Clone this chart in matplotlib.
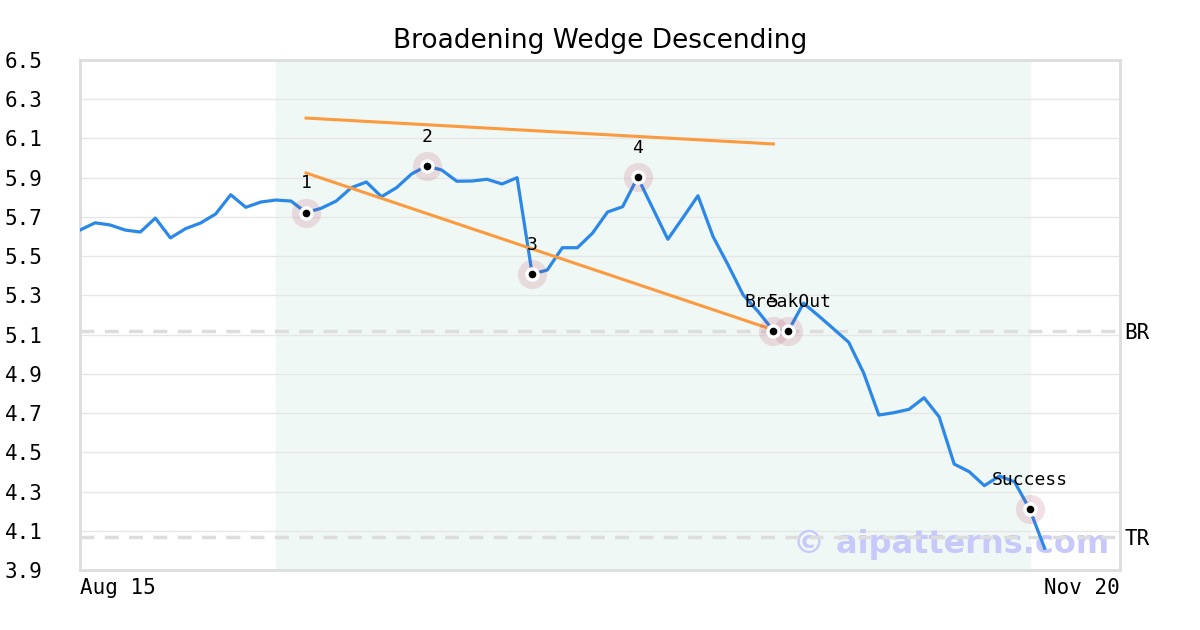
#!/usr/bin/env python3
"""
Broadening wedge (descending) pattern chart with pivot points,
breakout / target levels and the trend lines.
"""

import numpy as np
import matplotlib
matplotlib.use('Agg')
import matplotlib.pyplot as plt

# closing prices, one per trading day (Aug 15 ... )
closes = [5.633, 5.670, 5.659, 5.633, 5.623, 5.694, 5.593, 5.640, 5.669, 5.715,
          5.813, 5.749, 5.776, 5.786, 5.781, 5.722, 5.744, 5.781, 5.849, 5.878,
          5.803, 5.849, 5.919, 5.960, 5.939, 5.882, 5.883, 5.892, 5.868, 5.900,
          5.409, 5.429, 5.543, 5.543, 5.617, 5.725, 5.752, 5.902, 5.744, 5.586,
          5.696, 5.808, 5.600, 5.455, 5.302, 5.217, 5.120, 5.120, 5.260, 5.196,
          5.129, 5.061, 4.903, 4.690, 4.702, 4.719, 4.778, 4.681, 4.440, 4.401,
          4.330, 4.379, 4.350, 4.211, 4.011]

# pattern pivots (index into closes) and their labels
pivot_idx = [15, 23, 30, 37, 46, 47, 63]
pivot_labels = ['1', '2', '3', '4', '5', 'BreakOut', 'Success']

# trend lines: (start index, start value, end index, end value)
upper_line = [15, 6.204, 46, 6.072]
lower_line = [15, 5.924, 46, 5.124]

# pattern window and levels
pattern_span = [13, 63]
breakout_level = 5.118
target_level = 4.068

x_end = 69
x_tick_labels = ['Aug 15', 'Nov 20']
y_ticks = [3.9, 4.1, 4.3, 4.5, 4.7, 4.9, 5.1, 5.3, 5.5, 5.7, 5.9, 6.1, 6.3, 6.5]

MONO = 'DejaVu Sans Mono'


def create_chart():
    fig = plt.figure(figsize=(12, 6.3), dpi=100)
    ax = fig.add_axes([80 / 1200, 60 / 630, 1040 / 1200, 510 / 630])

    x = np.arange(len(closes))

    # pattern window
    ax.axvspan(pattern_span[0], pattern_span[1], color='#eff8f4', zorder=0)

    # grid
    ax.set_yticks(y_ticks)
    ax.yaxis.grid(True, color='#e6e6e6', linewidth=1)
    ax.set_axisbelow(True)

    # watermark
    ax.text(0.99, 0.05, '\u00a9 aipatterns.com', transform=ax.transAxes,
            ha='right', va='center', fontsize=23, fontweight='bold',
            color='#c8c9fa', zorder=1)

    # breakout / target levels
    for lvl, name in [(breakout_level, 'BR'), (target_level, 'TR')]:
        ax.axhline(lvl, color='#dddddd', linewidth=2.5, linestyle=(0, (4, 3)),
                   zorder=2)
        ax.text(x_end + 0.3, lvl, name, ha='left', va='center_baseline',
                fontsize=15, family=MONO, clip_on=False)

    # price line
    ax.plot(x, closes, color='#2b88e8', linewidth=2.3, zorder=3)

    # trend lines
    for ln in (upper_line, lower_line):
        ax.plot([ln[0], ln[2]], [ln[1], ln[3]], color='#fb9a3e',
                linewidth=2.2, zorder=3)

    # pivots
    for idx, lab in zip(pivot_idx, pivot_labels):
        v = closes[idx]
        ax.plot(idx, v, 'o', markersize=21, color=(0.7, 0.2, 0.35),
                alpha=0.15, markeredgewidth=0, zorder=4)
        ax.plot(idx, v, 'o', markersize=10.5, color='white',
                markeredgewidth=0, zorder=5)
        ax.plot(idx, v, 'o', markersize=5.5, color='black',
                markeredgewidth=0, zorder=6)
        ax.annotate(lab, (idx, v), xytext=(0, 21), textcoords='offset points',
                    ha='center', va='center', fontsize=13, family=MONO,
                    zorder=7)

    # axes styling
    ax.set_xlim(0, x_end)
    ax.set_ylim(3.9, 6.5)
    ax.set_yticklabels([f'{t:.1f}' for t in y_ticks], family=MONO, fontsize=15)
    ax.set_xticks([0, x_end])
    ax.set_xticklabels(x_tick_labels, family=MONO, fontsize=15)
    xl = ax.get_xticklabels()
    xl[0].set_ha('left')
    xl[1].set_ha('right')
    ax.tick_params(axis='y', length=0, pad=27)
    ax.tick_params(axis='x', length=0, pad=6)
    for sp in ax.spines.values():
        sp.set_color('#dddddd')
        sp.set_linewidth(2)

    ax.set_title('Broadening Wedge Descending', fontsize=19, pad=9)
    return fig


def main():
    fig = create_chart()
    fig.savefig('out.png', dpi=100)


if __name__ == "__main__":
    main()
